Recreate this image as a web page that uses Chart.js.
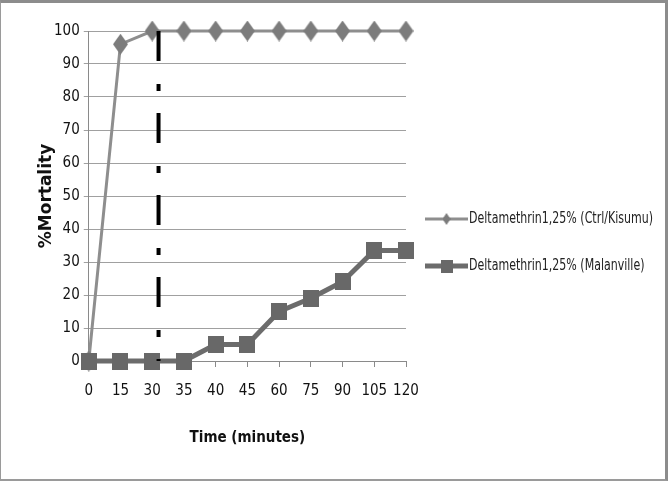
<!DOCTYPE html>
<html>
<head>
<meta charset="utf-8">
<script src="https://cdn.jsdelivr.net/npm/chart.js@4.4.4/dist/chart.umd.min.js"></script>
<style>
  html, body { margin: 0; padding: 0; background: #fff; }
  #wrap { position: relative; width: 668px; height: 481px; }
  #frame {
    position: absolute; left: 0; top: 0; right: 0; bottom: 0;
    border-top: 3px solid #8c8c8c; border-left: 1px solid #9a9a9a;
    border-right: 3px solid #8c8c8c; border-bottom: 2px solid #9a9a9a;
    pointer-events: none;
  }
</style>
</head>
<body>
<div id="wrap">
  <canvas id="chart" width="668" height="481"></canvas>
  <div id="frame"></div>
</div>
<script>
// Mortality over exposure time, deltamethrin 1.25%
const timeLabels = ['0', '15', '30', '35', '40', '45', '60', '75', '90', '105', '120'];
const kisumuMortality = [0, 96, 100, 100, 100, 100, 100, 100, 100, 100, 100];
const malanvilleMortality = [0, 0, 0, 0, 5, 5, 15, 19, 24, 33.5, 33.5];
const seriesNames = ['Deltamethrin1,25% (Ctrl/Kisumu)', 'Deltamethrin1,25% (Malanville)'];
const yTicks = [0, 10, 20, 30, 40, 50, 60, 70, 80, 90, 100];

// dash-dot marker just after the 30 min category
const cutoffIndex = 2.2;
const cutoffTop = 100;
const cutoffBottom = 0;

const FONT = "'Liberation Sans Narrow', 'DejaVu Sans Condensed', sans-serif";

function makeDiamond(w, h, color) {
  const c = document.createElement('canvas');
  c.width = w; c.height = h;
  const ctx = c.getContext('2d');
  ctx.fillStyle = color;
  ctx.beginPath();
  ctx.moveTo(w / 2, 0); ctx.lineTo(w, h / 2); ctx.lineTo(w / 2, h); ctx.lineTo(0, h / 2);
  ctx.closePath(); ctx.fill();
  return c;
}

function makeSquare(w, h, color) {
  const c = document.createElement('canvas');
  c.width = w; c.height = h;
  const ctx = c.getContext('2d');
  ctx.fillStyle = color;
  ctx.fillRect(0, 0, w, h);
  return c;
}

function makeLegendIcon(lineColor, lineWidth, marker) {
  const w = 43, h = 16;
  const c = document.createElement('canvas');
  c.width = w; c.height = h;
  const ctx = c.getContext('2d');
  ctx.strokeStyle = lineColor;
  ctx.lineWidth = lineWidth;
  ctx.beginPath(); ctx.moveTo(0, h / 2); ctx.lineTo(w, h / 2); ctx.stroke();
  ctx.drawImage(marker, (w - marker.width) / 2, (h - marker.height) / 2);
  return c;
}

const kisumuLine = '#8e8e8e', kisumuMarker = '#7c7c7c';
const malLine = '#6c6c6c', malMarker = '#686868';

const diamond = makeDiamond(15, 21, kisumuMarker);
const square = makeSquare(16, 17, malMarker);
const legendIcons = [
  makeLegendIcon(kisumuLine, 3, makeDiamond(8, 12, kisumuMarker)),
  makeLegendIcon(malLine, 5, makeSquare(12, 13, malMarker)),
];

const cutoffLine = {
  id: 'cutoffLine',
  afterDatasetsDraw(chart) {
    const { ctx, scales: { x, y } } = chart;
    const px = x.getPixelForValue(cutoffIndex);
    ctx.save();
    ctx.strokeStyle = '#000';
    ctx.lineWidth = 4;
    ctx.setLineDash([30, 23, 7, 22]);
    ctx.beginPath();
    ctx.moveTo(px, y.getPixelForValue(cutoffTop));
    ctx.lineTo(px, y.getPixelForValue(cutoffBottom));
    ctx.stroke();
    ctx.restore();
  },
};

// the built-in legend gets squeezed next to the y axis, so draw it here
const sideLegend = {
  id: 'sideLegend',
  afterDraw(chart) {
    const { ctx } = chart;
    const left = 425, top = 219, rowGap = 47, textWidth = 184;
    ctx.save();
    ctx.font = `15px ${FONT}`;
    ctx.fillStyle = '#222';
    ctx.textBaseline = 'middle';
    const squeeze = Math.min(1, textWidth / ctx.measureText(chart.data.datasets[0].label).width);
    chart.data.datasets.forEach((ds, i) => {
      const cy = top + i * rowGap;
      const icon = legendIcons[i];
      ctx.drawImage(icon, left, Math.round(cy - icon.height / 2));
      ctx.save();
      ctx.translate(left + icon.width + 1, cy);
      ctx.scale(squeeze, 1);
      ctx.fillText(ds.label, 0, 0);
      ctx.restore();
    });
    ctx.restore();
  },
};

new Chart(document.getElementById('chart'), {
  type: 'line',
  data: {
    labels: timeLabels,
    datasets: [
      {
        label: seriesNames[0],
        data: kisumuMortality,
        borderColor: kisumuLine,
        backgroundColor: kisumuMarker,
        borderWidth: 3,
        pointStyle: diamond,
        clip: false,
        order: 1,
      },
      {
        label: seriesNames[1],
        data: malanvilleMortality,
        borderColor: malLine,
        backgroundColor: malMarker,
        borderWidth: 5,
        pointStyle: square,
        clip: false,
        order: 0,
      },
    ],
  },
  options: {
    responsive: false,
    animation: false,
    layout: { padding: { top: 31, left: 33, right: 262, bottom: 30 } },
    plugins: {
      tooltip: { enabled: false },
      legend: { display: false },
    },
    scales: {
      x: {
        offset: false,
        border: { color: '#8a8a8a', width: 1 },
        grid: { drawOnChartArea: false, drawTicks: true, tickLength: 6, color: '#8a8a8a' },
        ticks: { color: '#111', padding: 15, maxRotation: 0, font: { family: FONT, size: 15 } },
        title: {
          display: true,
          text: 'Time (minutes)',
          color: '#111',
          padding: { top: 14 },
          font: { family: FONT, size: 15, weight: 'bold' },
        },
      },
      y: {
        min: 0,
        max: 100,
        afterBuildTicks: (scale) => { scale.ticks = yTicks.map((v) => ({ value: v })); },
        border: { color: '#8a8a8a', width: 1 },
        grid: { color: '#a0a0a0', tickLength: 5 },
        ticks: { color: '#111', padding: 4, font: { family: FONT, size: 15 } },
        title: {
          display: true,
          text: '%Mortality',
          color: '#111',
          padding: { top: 5, bottom: -5 },
          font: { family: "'DejaVu Sans', sans-serif", size: 17, weight: 'bold', lineHeight: 1 },
        },
      },
    },
  },
  plugins: [cutoffLine, sideLegend],
});
</script>
</body>
</html>
